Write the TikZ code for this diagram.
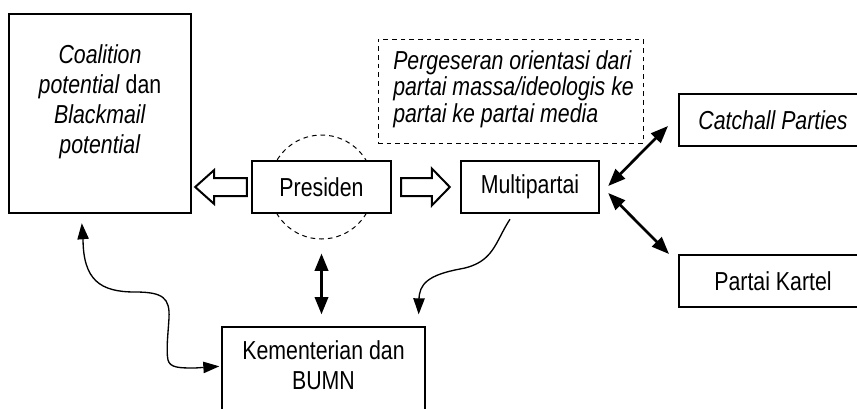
\documentclass[tikz,border=0pt]{standalone}
\usepackage{fontspec}
\setmainfont{Liberation Sans}[FakeStretch=0.82]
\usetikzlibrary{arrows.meta,calc}
\tikzset{
  txt/.style={font=\fontsize{19.5}{22.5}\selectfont, inner sep=0pt, align=center},
  thickbox/.style={draw, fill=white, line width=1.8pt, inner sep=0pt},
  medbox/.style={draw, line width=1.5pt, inner sep=0pt, font=\fontsize{19.5}{22.5}\selectfont},
  thinbox/.style={draw, line width=1pt, inner sep=0pt},
  hollow/.style={draw, line width=1.5pt, fill=white, line join=miter},
  dbl/.style={line width=2pt, {Triangle[length=13pt,width=10pt]}-{Triangle[length=13pt,width=10pt]}},
  curv/.style={line width=1pt},
  ctri/.tip={Triangle[length=12pt,width=8.5pt]}
}
\begin{document}
\begin{tikzpicture}[x=0.75pt,y=-0.75pt]
\useasboundingbox (0,0) rectangle (857,408);
% boxes
\node[thickbox, minimum width=182*0.75pt, minimum height=199*0.75pt] (coal) at (100,113.5) {};
\node[txt] (coaltxt) at (100,102) {\textit{Coalition}\\\textit{potential} dan\\\textit{Blackmail}\\\textit{potential}};
\node[draw, circle, dash pattern=on 3.5pt off 3pt, line width=0.75pt, minimum size=104*0.75pt, inner sep=0pt] (circ) at (321.5,187) {};
\node[thickbox, minimum width=139*0.75pt, minimum height=52*0.75pt, font=\fontsize{19.5}{22.5}\selectfont] (pres) at (321.5,187) {Presiden};
\node[thickbox, minimum width=138*0.75pt, minimum height=52*0.75pt, font=\fontsize{19.5}{22.5}\selectfont] (multi) at (530,187) {Multipartai};
\node[draw, dash pattern=on 3.5pt off 3pt, line width=0.75pt, minimum width=265*0.75pt, minimum height=104*0.75pt, inner sep=0pt] (dashbox) at (510.5,91) {};
\node[txt, align=left, anchor=west, font=\fontsize{19.5}{19.8}\selectfont] (dashtxt) at (393,89) {\textit{Pergeseran orientasi dari}\\\textit{partai massa/ideologis ke}\\\textit{partai ke partai media}};
\node[medbox, minimum width=188*0.75pt, minimum height=52*0.75pt] (catch) at (773,120) {\textit{Catchall Parties}};
\node[medbox, minimum width=188*0.75pt, minimum height=52*0.75pt] (kartel) at (773,281) {Partai Kartel};
\node[thinbox, minimum width=203*0.75pt, minimum height=113*0.75pt] (kem) at (323.5,383.5) {};
\node[txt] (kemtxt) at (323.5,365) {Kementerian dan\\BUMN};
% hollow arrows
\draw[hollow] ($(coal.east |- pres.west)+(3,0)$) -- ++(19,-17) -- ++(0,8) -- ($(pres.west)+(-4,-9)$) -- ($(pres.west)+(-4,9)$) -- ($(coal.east |- pres.west)+(22,9)$) -- ++(0,8) -- cycle;
\draw[hollow] ($(pres.east)+(9,-9)$) -- ($(multi.west)+(-28,-9)$) -- ++(0,-9.5) -- ($(multi.west)+(-10,0)$) -- ($(multi.west)+(-28,18.5)$) -- ++(0,-9.5) -- ($(pres.east)+(9,9)$) -- cycle;
% double arrows
\draw[dbl] ($(multi.east)+(8,-1)$) -- ($(catch.south west)+(-10,-21)$);
\draw[dbl] ($(multi.east)+(8,6)$) -- ($(kartel.north west)+(-9,0)$);
\draw[dbl] ($(circ.south)+(0,14)$) -- ($(circ.south |- kem.north)+(0,-12)$);
% curved connectors
\coordinate (c1s) at ($(coal.south west)+(74,9)$);
\coordinate (c1e) at ($(kem.north west)+(-2,40)$);
\draw[curv, ctri-ctri] (c1s) -- (83,238) .. controls (83,280) and (100,292) .. (135,292) .. controls (163,292) and (170,298) .. (169,318) .. controls (168,335) and (166,350) .. (168,360) .. controls (170,368) and (180,368) .. (195,368) -- (c1e);
\coordinate (c2s) at ($(multi.south)+(-20,5)$);
\coordinate (c2e) at ($(kem.north east)+(-7,-12)$);
\draw[curv, -ctri] (c2s) .. controls (495,242) and (494,263) .. (460,269) .. controls (428,275) and (419,284) .. (419,300) -- (c2e);
\end{tikzpicture}
\end{document}
